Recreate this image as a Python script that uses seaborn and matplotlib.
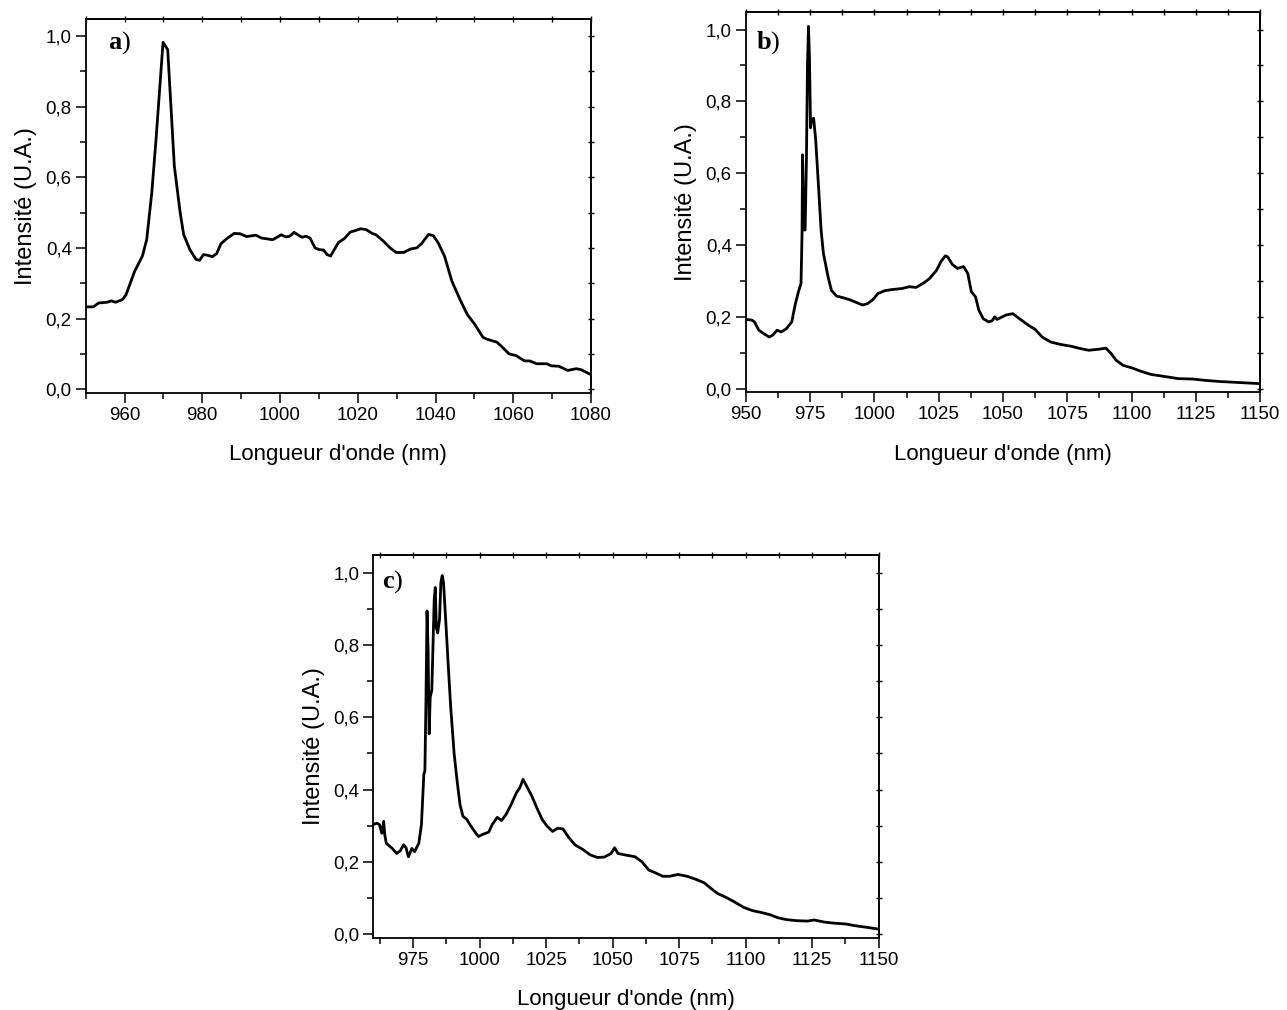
import numpy as np
import pandas as pd
import seaborn as sns
import matplotlib
matplotlib.use("Agg")
import matplotlib.pyplot as plt
from matplotlib.ticker import MultipleLocator, FuncFormatter

# ---- spectrum a) ----
wl_a = [950, 952, 953.3, 955.5, 956.6, 957.7, 959.5, 960.4, 962.6, 964.6, 965.7, 967.0, 968.1,
        969.9, 971.1, 972.8, 974.3, 975.2, 976.8, 978.4, 979.3, 980.3, 981.4, 982.6, 983.7,
        984.8, 986.4, 988.2, 989.7, 991.4, 993.8, 995.2, 998.1, 1000.3, 1001.5, 1002.5, 1003.6,
        1005.6, 1006.7, 1007.7, 1009.0, 1010.1, 1011.2, 1012.1, 1013.0, 1015.0, 1016.5, 1018.1,
        1019.4, 1020.7, 1022.1, 1023.7, 1024.7, 1026.5, 1028.3, 1029.9, 1031.8, 1033.6, 1035.2,
        1036.4, 1038.2, 1039.4, 1040.7, 1042.3, 1044.2, 1046.5, 1048.2, 1050.0, 1052.2, 1053.1,
        1055.8, 1056.8, 1058.9, 1060.7, 1062.9, 1064.2, 1066.0, 1068.6, 1069.8, 1071.7, 1074.0,
        1076.2, 1077.5, 1080]
int_a = [0.233, 0.233, 0.244, 0.246, 0.250, 0.246, 0.254, 0.268, 0.334, 0.377, 0.424, 0.556, 0.708,
         0.982, 0.961, 0.632, 0.500, 0.438, 0.395, 0.367, 0.365, 0.381, 0.379, 0.375, 0.384,
         0.412, 0.427, 0.441, 0.440, 0.432, 0.436, 0.428, 0.423, 0.437, 0.431, 0.433, 0.444,
         0.430, 0.433, 0.428, 0.400, 0.395, 0.394, 0.381, 0.377, 0.415, 0.426, 0.445,
         0.449, 0.454, 0.452, 0.441, 0.437, 0.420, 0.400, 0.387, 0.387, 0.397, 0.400,
         0.412, 0.438, 0.435, 0.414, 0.377, 0.306, 0.249, 0.211, 0.185, 0.147, 0.142,
         0.133, 0.123, 0.100, 0.095, 0.080, 0.080, 0.072, 0.072, 0.066, 0.065, 0.053,
         0.058, 0.055, 0.041]

# ---- spectrum b) ----
wl_b = [950, 952.4, 953.4, 955.1, 957.1, 959.1, 960.5, 962.2, 963.8, 965.8, 967.9, 969.2, 970.5,
        971.5, 971.9, 972.1, 972.6, 973.1, 973.6, 974.0, 974.4, 974.8, 975.2, 975.6, 976.4,
        977.2, 978.3, 979.3, 980.2, 982.0, 983.3, 985.3, 988.0, 990.7, 993.4, 995.4, 997.4,
        999.4, 1001.4, 1004.1, 1006.8, 1010.8, 1013.5, 1016.2, 1018.9, 1021.5, 1024.2, 1025.8,
        1027.6, 1028.5, 1030.3, 1032.3, 1034.7, 1036.3, 1037.7, 1039.3, 1040.6, 1042.3, 1044.4,
        1045.7, 1046.8, 1047.7, 1051.1, 1053.8, 1056.4, 1059.8, 1062.5, 1065.2, 1068.5, 1072.6,
        1076.6, 1079.3, 1083.3, 1087.3, 1090.0, 1092.0, 1094.0, 1096.7, 1100.1, 1103.4, 1107.4,
        1112.8, 1118.2, 1123.6, 1128.9, 1134.3, 1139.7, 1145.0, 1150]
int_b = [0.193, 0.191, 0.186, 0.163, 0.153, 0.144, 0.149, 0.163, 0.158, 0.167, 0.186, 0.233, 0.270,
         0.293, 0.433, 0.651, 0.442, 0.442, 0.637, 0.898, 1.009, 0.916, 0.726, 0.749, 0.753,
         0.693, 0.563, 0.442, 0.377, 0.312, 0.274, 0.258, 0.253, 0.247, 0.239, 0.233, 0.237,
         0.248, 0.265, 0.273, 0.276, 0.279, 0.284, 0.282, 0.293, 0.307, 0.330, 0.353,
         0.370, 0.367, 0.346, 0.335, 0.340, 0.321, 0.270, 0.256, 0.219, 0.195, 0.186,
         0.189, 0.200, 0.193, 0.205, 0.209, 0.195, 0.177, 0.165, 0.144, 0.130, 0.123,
         0.118, 0.113, 0.107, 0.110, 0.113, 0.098, 0.079, 0.065, 0.058, 0.049, 0.040,
         0.034, 0.028, 0.027, 0.023, 0.020, 0.018, 0.016, 0.014]

# ---- spectrum c) ----
wl_c = [960, 961.3, 962.3, 963.2, 963.9, 964.3, 964.9, 967.1, 968.8, 970.1, 971.4, 972.3, 973.2,
        974.5, 975.5, 977.1, 978.1, 979.0, 979.4, 979.8, 980.2, 980.6, 981.0, 981.4, 982.0,
        982.5, 982.9, 983.3, 983.7, 984.2, 984.9, 985.4, 985.9, 986.4, 987.2, 988.2, 989.1,
        990.4, 991.5, 992.6, 993.7, 995.2, 996.3, 997.9, 999.5, 1001.5, 1003.4, 1004.7, 1006.6,
        1008.2, 1009.9, 1011.8, 1013.8, 1015.1, 1016.3, 1017.6, 1019.6, 1021.5, 1023.5, 1025.4,
        1027.4, 1029.3, 1031.3, 1033.2, 1035.8, 1039.0, 1041.6, 1044.2, 1046.8, 1049.4, 1050.7,
        1052.0, 1054.6, 1058.4, 1061.0, 1063.6, 1066.2, 1068.8, 1071.4, 1074.6, 1077.9, 1081.1,
        1084.4, 1087.0, 1089.5, 1092.8, 1096.0, 1099.2, 1102.5, 1105.7, 1109.0, 1112.2, 1115.4,
        1119.3, 1123.2, 1125.8, 1129.7, 1133.6, 1137.5, 1141.3, 1145.2, 1149.8]
int_c = [0.303, 0.307, 0.303, 0.279, 0.312, 0.275, 0.251, 0.237, 0.223, 0.230, 0.247, 0.239, 0.214,
         0.237, 0.228, 0.251, 0.303, 0.442, 0.452, 0.647, 0.894, 0.787, 0.554, 0.656, 0.675,
         0.815, 0.926, 0.959, 0.847, 0.833, 0.871, 0.973, 0.992, 0.973, 0.871, 0.740, 0.628,
         0.498, 0.424, 0.358, 0.326, 0.317, 0.303, 0.286, 0.270, 0.277, 0.282, 0.303, 0.323,
         0.314, 0.331, 0.358, 0.391, 0.405, 0.428, 0.410, 0.382, 0.349, 0.317, 0.298,
         0.284, 0.293, 0.291, 0.270, 0.247, 0.233, 0.219, 0.212, 0.213, 0.223, 0.239,
         0.223, 0.219, 0.214, 0.200, 0.177, 0.169, 0.160, 0.160, 0.165, 0.160, 0.152,
         0.142, 0.126, 0.112, 0.101, 0.088, 0.074, 0.065, 0.060, 0.054, 0.045, 0.040,
         0.037, 0.036, 0.039, 0.033, 0.030, 0.028, 0.023, 0.019, 0.014]

panel_letters = ["a", "b", "c"]
x_label = "Longueur d'onde (nm)"
y_label = "Intensité (U.A.)"

sns.set_theme(style="ticks")
plt.rcParams["font.family"] = ["Liberation Sans", "DejaVu Sans"]
plt.rcParams["text.color"] = "black"
plt.rcParams["axes.labelcolor"] = "black"
plt.rcParams["mathtext.fontset"] = "custom"
plt.rcParams["mathtext.bf"] = "Liberation Serif:bold"
plt.rcParams["mathtext.rm"] = "Liberation Serif"

fig = plt.figure(figsize=(12.87, 10.10), dpi=100)

W, H = 1287, 1010
def box(x0, y0, x1, y1):
    return [x0 / W, 1 - y1 / H, (x1 - x0) / W, (y1 - y0) / H]

panels = [
    dict(rect=box(85.7, 19, 591, 392.7), wl=wl_a, val=int_a, xlim=(950, 1080),
         major=20, minor=10, letter_off=(22, 24)),
    dict(rect=box(745.7, 12.3, 1260.3, 392.3), wl=wl_b, val=int_b, xlim=(950, 1150),
         major=25, minor=12.5, letter_off=(10, 30)),
    dict(rect=box(373.3, 555.3, 878.7, 937.7), wl=wl_c, val=int_c, xlim=(960, 1150),
         major=25, minor=12.5, letter_off=(9, 26)),
]

comma = FuncFormatter(lambda v, p: f"{v:.1f}".replace(".", ","))

for letter, p in zip(panel_letters, panels):
    ax = fig.add_axes(p["rect"])
    df = pd.DataFrame({"wl": p["wl"], "val": p["val"]})
    sns.lineplot(data=df, x="wl", y="val", ax=ax, color="black", linewidth=2.0,
                 sort=False, estimator=None)
    ax.set_xlim(*p["xlim"])
    ax.set_ylim(-0.01, 1.048)
    ax.xaxis.set_major_locator(MultipleLocator(p["major"]))
    ax.xaxis.set_minor_locator(MultipleLocator(p["minor"]))
    ax.yaxis.set_major_locator(MultipleLocator(0.2))
    ax.yaxis.set_minor_locator(MultipleLocator(0.1))
    ax.yaxis.set_major_formatter(comma)
    ax.tick_params(which="major", direction="out", length=7, width=1.1,
                   labelsize=13.5, color="black", labelcolor="black", pad=3)
    ax.tick_params(which="minor", direction="out", length=4, width=1.1, color="black")
    for s in ax.spines.values():
        s.set_linewidth(1.3)
        s.set_color("black")
        s.set_visible(True)
    # short ticks along the top and right frame
    top = ax.secondary_xaxis("top")
    top.xaxis.set_major_locator(MultipleLocator(p["major"]))
    top.xaxis.set_minor_locator(MultipleLocator(p["minor"]))
    top.tick_params(which="both", direction="inout", length=4, width=1.0,
                    labeltop=False, color="black")
    right = ax.secondary_yaxis("right")
    right.yaxis.set_major_locator(MultipleLocator(0.2))
    right.yaxis.set_minor_locator(MultipleLocator(0.1))
    right.tick_params(which="both", direction="inout", length=4, width=1.0,
                      labelright=False, color="black")
    ax.set_xlabel(x_label, fontsize=16, labelpad=15, color="black")
    ax.set_ylabel(y_label, fontsize=17, labelpad=6, color="black")
    ax.annotate(rf"$\mathbf{{{letter}}}$)", xy=(0, 1), xycoords="axes fraction",
                xytext=(p["letter_off"][0], -p["letter_off"][1]), textcoords="offset pixels",
                ha="left", va="center", fontsize=19, family="Liberation Serif",
                color="black")

fig.savefig("out.png", dpi=100)
